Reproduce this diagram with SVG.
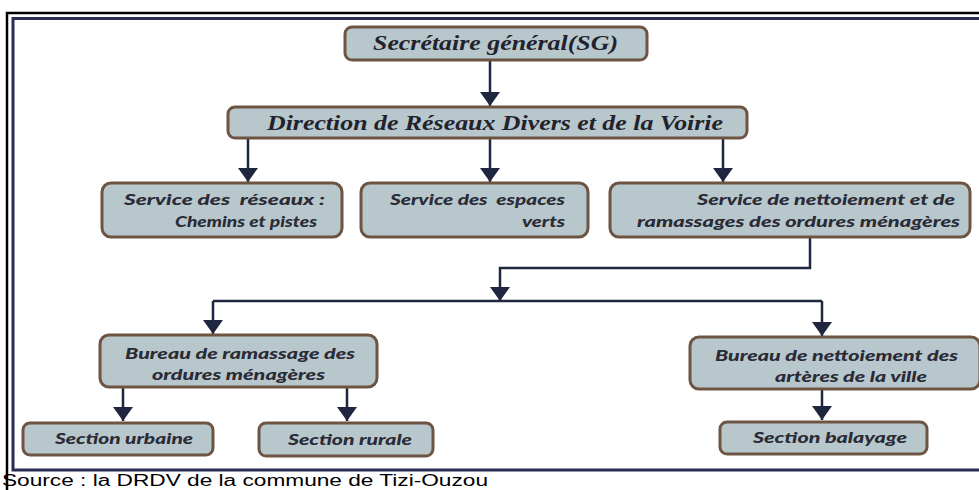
<svg xmlns="http://www.w3.org/2000/svg" width="979" height="490" viewBox="0 0 979 490">
<style>
.node rect{fill:#b8c7cc;stroke:#6e5443;stroke-width:3}
.t{font-family:Lato,"Liberation Sans",sans-serif;font-weight:900;font-style:italic;font-size:15px;fill:#2a2b36;white-space:pre}
.ts{font-family:"Liberation Serif","DejaVu Serif",serif;font-weight:bold;font-style:italic;font-size:21px;fill:#22222c}
.c{fill:none;stroke:#1f2640;stroke-width:2.5}
</style>
<defs>
<marker id="ah" markerUnits="userSpaceOnUse" markerWidth="14" markerHeight="20" viewBox="0 0 14 20" refX="14" refY="10" orient="auto">
<path d="M0,0 L14,10 L0,20 z" fill="#1f2640"/>
</marker>
</defs>
<rect width="979" height="490" fill="#ffffff"/>
<path d="M979,13 H7 V490" fill="none" stroke="#000000" stroke-width="2.5"/>
<path d="M979,18.5 H13 V470 H979" fill="none" stroke="#2b2d58" stroke-width="3"/>
<text x="2" y="486" font-family="'Liberation Sans',Arial,sans-serif" font-size="16" fill="#000000" textLength="486" lengthAdjust="spacingAndGlyphs">Source : la DRDV de la commune de Tizi-Ouzou</text>

<g id="connectors">
<path class="c" d="M490,60 V106" marker-end="url(#ah)"/>
<path class="c" d="M248,138 V182" marker-end="url(#ah)"/>
<path class="c" d="M490,138 V182" marker-end="url(#ah)"/>
<path class="c" d="M723,138 V182" marker-end="url(#ah)"/>
<path class="c" d="M810,237 V268 H500 V301" marker-end="url(#ah)"/>
<path class="c" d="M213,301 H822"/>
<path class="c" d="M213,301 V334" marker-end="url(#ah)"/>
<path class="c" d="M822,301 V336" marker-end="url(#ah)"/>
<path class="c" d="M123,387 V421" marker-end="url(#ah)"/>
<path class="c" d="M347,387 V421" marker-end="url(#ah)"/>
<path class="c" d="M822,389 V420" marker-end="url(#ah)"/>
</g>

<g id="sg" class="node">
<rect x="345" y="27" width="302" height="33" rx="7"/>
<text class="ts" x="373" y="50" textLength="245" lengthAdjust="spacingAndGlyphs">Secrétaire général(SG)</text>
</g>
<g id="direction" class="node">
<rect x="228" y="107" width="519" height="31" rx="7"/>
<text class="ts" x="267" y="130" textLength="456" lengthAdjust="spacingAndGlyphs">Direction de Réseaux Divers et de la Voirie</text>
</g>
<g id="service-reseaux" class="node">
<rect x="102" y="183" width="240" height="54" rx="9"/>
<text class="t" x="124" y="205" textLength="201" lengthAdjust="spacingAndGlyphs" xml:space="preserve">Service des  réseaux :</text>
<text class="t" x="175" y="227" textLength="142" lengthAdjust="spacingAndGlyphs">Chemins et pistes</text>
</g>
<g id="service-espaces" class="node">
<rect x="361" y="183" width="227" height="54" rx="9"/>
<text class="t" x="390" y="205" textLength="175" lengthAdjust="spacingAndGlyphs" xml:space="preserve">Service des  espaces</text>
<text class="t" x="522" y="227" textLength="43" lengthAdjust="spacingAndGlyphs">verts</text>
</g>
<g id="service-nettoiement" class="node">
<rect x="610" y="183" width="360" height="54" rx="9"/>
<text class="t" x="697" y="205" textLength="258" lengthAdjust="spacingAndGlyphs">Service de nettoiement et de</text>
<text class="t" x="637" y="227" textLength="323" lengthAdjust="spacingAndGlyphs">ramassages des ordures ménagères</text>
</g>
<g id="bureau-ramassage" class="node">
<rect x="100" y="335" width="277" height="52" rx="9"/>
<text class="t" x="125" y="359" textLength="230" lengthAdjust="spacingAndGlyphs">Bureau de ramassage des</text>
<text class="t" x="152" y="380" textLength="173" lengthAdjust="spacingAndGlyphs">ordures ménagères</text>
</g>
<g id="bureau-nettoiement" class="node">
<rect x="690" y="337" width="290" height="52" rx="9"/>
<text class="t" x="715" y="361" textLength="243" lengthAdjust="spacingAndGlyphs">Bureau de nettoiement des</text>
<text class="t" x="775" y="382" textLength="152" lengthAdjust="spacingAndGlyphs">artères de la ville</text>
</g>
<g id="section-urbaine" class="node">
<rect x="23" y="423" width="190" height="32" rx="7"/>
<text class="t" x="55" y="444" textLength="138" lengthAdjust="spacingAndGlyphs">Section urbaine</text>
</g>
<g id="section-rurale" class="node">
<rect x="259" y="423" width="174" height="33" rx="7"/>
<text class="t" x="288" y="445" textLength="124" lengthAdjust="spacingAndGlyphs">Section rurale</text>
</g>
<g id="section-balayage" class="node">
<rect x="720" y="422" width="207" height="32" rx="7"/>
<text class="t" x="753" y="443" textLength="154" lengthAdjust="spacingAndGlyphs">Section balayage</text>
</g>
</svg>
